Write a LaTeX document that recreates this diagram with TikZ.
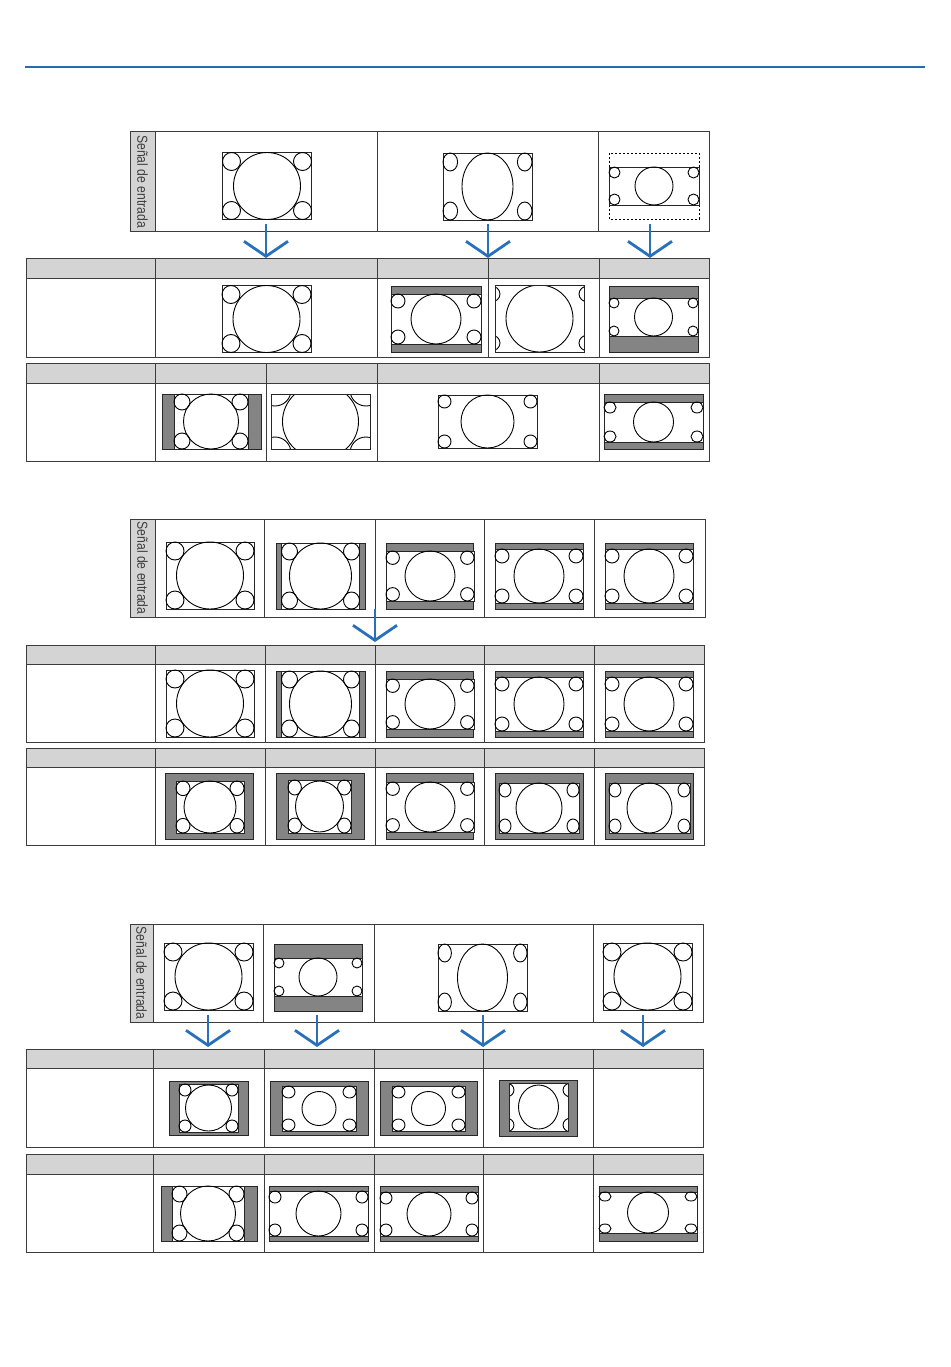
\documentclass[tikz,border=0pt]{standalone}
\usepackage{fontspec}
\newfontfamily\labfont[FakeStretch=0.84]{Liberation Sans}
\usetikzlibrary{arrows.meta}
\definecolor{rulec}{RGB}{38,108,172}
\definecolor{arrowblue}{RGB}{40,112,188}
\definecolor{hdr}{RGB}{212,212,212}
\definecolor{barc}{RGB}{132,132,132}
\definecolor{gridc}{RGB}{60,60,60}
\tikzset{
 gridline/.style={draw=gridc, line width=1pt},
 imgbox/.style={draw=black!85, line width=0.8pt},
 cir/.style={draw=black, line width=0.9pt},
 framed/.style={fill=barc, draw=black!85, line width=0.9pt},
 dashbox/.style={draw=black, line width=0.8pt, dash pattern=on 2pt off 2pt},
 blarrow/.style={draw=arrowblue, line width=2.8pt, -{Straight Barb[length=15pt,width=44pt]}},
 labtext/.style={font=\labfont\fontsize{14.5}{14.5}\selectfont, text=black!75, rotate=-90, inner sep=0pt},
}
% screen picture: cx cy hw hh Rx Ry rx ry
\newcommand\scrn[8]{%
 \fill[white] ({#1-#3},{#2-#4}) rectangle ({#1+#3},{#2+#4});
 \draw[imgbox] ({#1-#3},{#2-#4}) rectangle ({#1+#3},{#2+#4});
 \draw[cir] (#1,#2) ellipse [x radius=#5, y radius=#6];
 \foreach \sx in {-1,1}{\foreach \sy in {-1,1}{
  \draw[cir] ({#1+\sx*(#3-#7)},{#2+\sy*(#4-#8)}) ellipse [x radius=#7, y radius=#8];}}%
}
\newcommand\frm[4]{\draw[framed] (#1,#2) rectangle (#3,#4);}
% table: x0 y0 x1 yh y1 cols
\newcommand\tbl[6]{%
 \fill[hdr] (#1,#2) rectangle (#3,#4);
 \draw[gridline] (#1,#2) rectangle (#3,#5);
 \draw[gridline] (#1,#4) -- (#3,#4);
 \foreach \c in {#6}{\draw[gridline] (\c,#2) -- (\c,#5);}%
}
% input box: x0 y0 x1 y1 labx dividers
\newcommand\inbox[6]{%
 \fill[hdr] (#1,#2) rectangle (#5,#4);
 \draw[gridline] (#1,#2) rectangle (#3,#4);
 \draw[gridline] (#5,#2) -- (#5,#4);
 \foreach \c in {#6}{\draw[gridline] (\c,#2) -- (\c,#4);}%
}
\newcommand\sectwoicons{%
 \scrn{210}{575.5}{44}{33.5}{33.5}{33.5}{9}{9}
 \frm{276}{543}{365}{609} \scrn{320.5}{576}{39}{33}{31}{33}{8}{8.5}
 \frm{386}{543}{473}{609} \scrn{430}{576}{44}{25}{25}{25}{6.7}{6.7}
 \frm{495}{543}{583}{609} \scrn{539}{576}{44}{27}{25}{27}{7}{7}
 \frm{605}{543}{693}{609} \scrn{649}{576}{44}{27}{25}{27}{7}{7}
}
\begin{document}
\begin{tikzpicture}[x=1pt,y=-1pt]
\useasboundingbox (0,0) rectangle (950,1367);
\fill[white] (0,0) rectangle (950,1367);
% top rule
\coordinate (ruleL) at (25,67);
\coordinate (ruleR) at (925,67);
\draw[rulec, line width=2.5pt] (ruleL) -- (ruleR);

% ---------------- section 1 ----------------
\inbox{130}{132}{709}{231}{155}{377,598}
\node[labtext] (lab1) at (142.5,181.5) {Señal de entrada};
\tbl{26}{258}{709}{278}{357}{155,377,488,599}
\tbl{26}{363}{709}{383}{461}{155,266,377,599}

\scrn{267}{186}{44.5}{33.5}{33.5}{33.5}{9}{9}
\scrn{487.5}{186.5}{44.5}{33.5}{25.5}{33.5}{7.3}{9}
\draw[dashbox] (609,153) rectangle (699,219);
\scrn{654}{186}{45}{19}{19}{19}{5.5}{5.5}

\scrn{266.5}{319}{44.5}{33.5}{33.5}{33.5}{9}{9}
\frm{391}{286}{481}{352} \scrn{436}{319}{45}{25}{25}{25}{7}{7}
\begin{scope}
 \clip (495,285) rectangle (584,352);
 \draw[cir] (539.5,318.5) circle [radius=33.5];
 \foreach \px in {491,588}{\foreach \py in {294,343}{\draw[cir] (\px,\py) ellipse [x radius=9,y radius=8];}}
\end{scope}
\draw[imgbox] (495,285) rectangle (584,352);
\frm{609}{286}{698}{352} \scrn{653.5}{317}{44.5}{19}{19}{19}{5}{5}

\frm{162}{394}{261}{449} \scrn{211}{421.5}{37}{27.5}{27.5}{27.5}{8}{8}
\begin{scope}
 \clip (271,394) rectangle (370,449);
 \draw[cir] (320.5,421.5) ellipse [x radius=38, y radius=37];
 \foreach \px in {275,366}{\foreach \py in {390,453}{\draw[cir] (\px,\py) circle [radius=16];}}
\end{scope}
\draw[imgbox] (271,394) rectangle (370,449);
\scrn{487.5}{421.5}{49.5}{26.5}{26.5}{26.5}{6.5}{6.5}
\frm{604}{394}{703}{449} \scrn{653.5}{422}{49.5}{20}{20}{20}{6}{5.5}

\coordinate (s1a) at (266,224); \coordinate (t1a) at (266,258);
\coordinate (s1b) at (488,224); \coordinate (t1b) at (488,258);
\coordinate (s1c) at (650,224); \coordinate (t1c) at (650,258);
\draw[blarrow] (s1a) -- (t1a);
\draw[blarrow] (s1b) -- (t1b);
\draw[blarrow] (s1c) -- (t1c);

% ---------------- section 2 ----------------
\inbox{130}{519}{705}{617}{155}{264,375,484,594}
\node[labtext] (lab2) at (142.5,568) {Señal de entrada};
\tbl{26}{645}{704}{664}{742}{155,265,375,484,594}
\tbl{26}{748}{704}{767}{845}{155,265,375,484,594}

\sectwoicons
\begin{scope}[yshift=-128pt]
\sectwoicons
\end{scope}

\frm{165}{773}{253}{839} \scrn{210}{807}{34}{26}{26}{26}{7}{7.3}
\frm{276}{773}{364}{839} \scrn{319.5}{806.5}{31.5}{26.5}{24}{25.5}{6.7}{7.5}
\frm{386}{773}{473}{839} \scrn{430}{807}{44}{25}{25}{25}{6.7}{6.7}
\frm{495}{773}{583}{839} \scrn{539}{808}{40}{25}{23}{25}{6}{7}
\frm{605}{773}{693}{839} \scrn{649.5}{808}{40.5}{25}{22.5}{25}{6}{7}

\coordinate (s2a) at (375,609); \coordinate (t2a) at (375,642);
\draw[blarrow] (s2a) -- (t2a);

% ---------------- section 3 ----------------
\inbox{130}{924}{703}{1022}{153}{263,374,593}
\node[labtext] (lab3) at (141.5,973) {Señal de entrada};
\tbl{26}{1049}{703}{1068}{1147}{153,264,374,483,593}
\tbl{26}{1154}{703}{1174}{1252}{153,264,374,483,593}

\scrn{208.5}{976.5}{44.5}{33.5}{33.5}{33.5}{9}{9}
\frm{274}{944}{362}{1011} \scrn{318}{977}{44}{19}{19}{19}{5}{5}
\scrn{482.5}{977.5}{44.5}{33.5}{25}{33.5}{6.7}{9}
\scrn{647.5}{976.5}{44.5}{33.5}{33.5}{33.5}{9}{9}

\frm{169}{1081}{248}{1135} \scrn{208.5}{1108}{29.5}{24}{23}{23}{6}{6}
\frm{270}{1081}{368}{1135} \scrn{319}{1108.5}{37}{22.5}{17}{17}{6.5}{6}
\frm{380}{1081}{477}{1135} \scrn{428.5}{1108.5}{36.5}{22.5}{17}{17}{6.5}{6}
\frm{499}{1080}{577}{1136}
\fill[white] (509,1083) rectangle (568,1131);
\begin{scope}
 \clip (509,1083) rectangle (568,1131);
 \draw[cir] (538.5,1107) ellipse [x radius=20, y radius=22];
 \foreach \px in {506,571}{\foreach \py in {1090,1125}{\draw[cir] (\px,\py) ellipse [x radius=8,y radius=7];}}
\end{scope}
\draw[imgbox] (509,1083) rectangle (568,1131);

\frm{161}{1186}{257}{1241} \scrn{208}{1213.5}{36}{27.5}{27.5}{27.5}{7.5}{8}
\frm{269}{1186}{368}{1241} \scrn{318.5}{1213.5}{49.5}{22.5}{22.5}{22.5}{6}{6}
\frm{380}{1186}{478}{1241} \scrn{429}{1214}{49}{22}{22}{22}{6}{6}
\frm{599}{1186}{697}{1241} \scrn{648}{1212.5}{49}{20.5}{20.5}{20.5}{6}{4.5}

\coordinate (s3a) at (208,1015); \coordinate (t3a) at (208,1047);
\coordinate (s3b) at (317,1015); \coordinate (t3b) at (317,1047);
\coordinate (s3c) at (483,1015); \coordinate (t3c) at (483,1047);
\coordinate (s3d) at (643,1015); \coordinate (t3d) at (643,1047);
\draw[blarrow] (s3a) -- (t3a);
\draw[blarrow] (s3b) -- (t3b);
\draw[blarrow] (s3c) -- (t3c);
\draw[blarrow] (s3d) -- (t3d);
\end{tikzpicture}
\end{document}
